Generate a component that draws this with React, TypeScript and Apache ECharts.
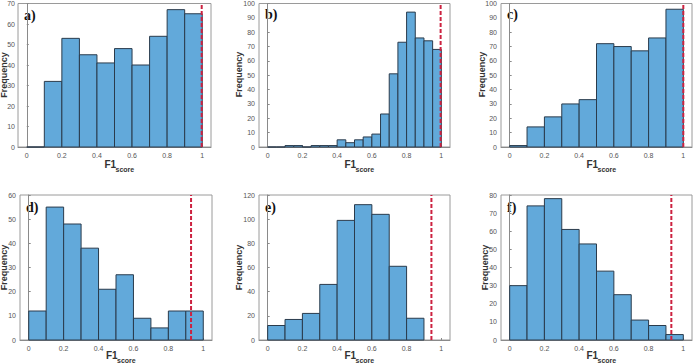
import React, { useEffect, useRef } from "react";
import * as echarts from "echarts";

// Histogram counts per panel; bins start at 0 with the given width
const countsA = [0, 32, 53, 45, 41, 48, 40, 54, 67, 65];
const countsB = [0, 0, 1, 1, 0, 1, 1, 1, 5, 3, 5, 7, 9, 23, 51, 73, 94, 76, 74, 68];
const countsC = [1, 14, 21, 30, 33, 72, 70, 67, 76, 96];
const countsD = [12, 55, 48, 38, 21, 27, 9, 5, 12, 12];
const countsE = [12, 17, 22, 46, 99, 112, 104, 61, 18];
const countsF = [30, 74, 78, 61, 53, 38, 25, 11, 8, 3];

const binWidths = [0.1, 0.05, 0.1, 0.1, 0.1, 0.1];
const thresholds = [0.997, 0.996, 1.0, 0.93, 0.943, 0.931];
const yMax = [70, 100, 100, 60, 120, 80];
const yStep = [10, 10, 10, 10, 20, 10];
const panelLabels = ["a)", "b)", "c)", "d)", "e)", "f)"];
const xTicks = [0, 0.2, 0.4, 0.6, 0.8, 1];

const allCounts = [countsA, countsB, countsC, countsD, countsE, countsF];

// plot-box placement for each panel: [left, top, width, height]
const boxes = [
  [18, 3, 193, 144],
  [259, 2, 191, 145],
  [501, 2, 191, 145],
  [20, 195, 192, 145],
  [259, 195, 191, 145],
  [501, 195, 191, 145],
];
// distance of the "Frequency" title from the left axis line
const yTitleGap = [14, 20, 19, 16, 20, 16];
// spacing between y tick labels and the axis line
const yLabelMargin = [3, 4, 4, 4, 4, 4];
// distance of the x title centre below the plot box
const xTitleGap = [17, 17, 17, 15.5, 15.5, 15.5];

const FONT = "'Liberation Sans', Arial, sans-serif";
const BAR_FILL = "#62a9da";
const BAR_EDGE = "#2a3b4c";
const LINE_RED = "#cc2240";

export default function App() {
  const ref = useRef<HTMLDivElement>(null);

  useEffect(() => {
    if (!ref.current) return;
    const chart = echarts.init(ref.current, undefined, { renderer: "svg" });

    const grids: any[] = [];
    const xAxes: any[] = [];
    const yAxes: any[] = [];
    const series: any[] = [];
    const graphics: any[] = [];

    allCounts.forEach((counts, i) => {
      const [l, t, w, h] = boxes[i];
      grids.push({
        left: l,
        top: t,
        width: w,
        height: h,
        show: true,
        borderColor: "#9a9a9a",
        borderWidth: 1,
        backgroundColor: "#fff",
      });
      xAxes.push({
        type: "value",
        gridIndex: i,
        min: -0.05,
        max: 1.05,
        axisLine: { show: true, lineStyle: { color: "#8a8a8a", width: 1 } },
        axisTick: {
          show: true,
          inside: true,
          length: 2,
          lineStyle: { color: "#8a8a8a" },
          customValues: xTicks,
        },
        axisLabel: {
          fontSize: 7,
          color: "#555",
          fontFamily: FONT,
          margin: 5,
          customValues: xTicks,
          formatter: (v: number) => String(Math.round(v * 10) / 10),
        },
        splitLine: { show: false },
      });
      yAxes.push({
        type: "value",
        gridIndex: i,
        min: 0,
        max: yMax[i],
        interval: yStep[i],
        axisLine: { show: true, lineStyle: { color: "#8a8a8a", width: 1 } },
        axisTick: { show: true, inside: true, length: 2, lineStyle: { color: "#8a8a8a" } },
        axisLabel: { fontSize: 7, color: "#555", fontFamily: FONT, margin: yLabelMargin[i] },
        splitLine: { show: false },
      });

      const bw = binWidths[i];
      const data = counts.map((c, k) => [
        Math.round(k * bw * 1000) / 1000,
        Math.round((k + 1) * bw * 1000) / 1000,
        c,
      ]);
      series.push({
        type: "custom",
        xAxisIndex: i,
        yAxisIndex: i,
        data,
        encode: { x: [0, 1], y: 2 },
        renderItem: (_p: any, api: any) => {
          const p0 = api.coord([api.value(0), 0]);
          const p1 = api.coord([api.value(1), api.value(2)]);
          return {
            type: "rect",
            shape: { x: p0[0], y: p1[1], width: p1[0] - p0[0], height: p0[1] - p1[1] },
            style: { fill: BAR_FILL, stroke: BAR_EDGE, lineWidth: 1 },
          };
        },
        z: 2,
      });
      series.push({
        type: "line",
        xAxisIndex: i,
        yAxisIndex: i,
        data: [
          [thresholds[i], 0],
          [thresholds[i], yMax[i]],
        ],
        symbol: "none",
        lineStyle: { color: LINE_RED, width: 2, type: [4, 2] },
        z: 5,
      });

      // axis titles and panel tag
      const cx = l + w / 2 + 2;
      graphics.push({
        type: "text",
        x: l - yTitleGap[i],
        y: t + h / 2,
        rotation: Math.PI / 2,
        style: {
          text: "Frequency",
          font: `bold 9px ${FONT}`,
          fill: "#333",
          align: "center",
          verticalAlign: "middle",
        },
      });
      graphics.push({
        type: "text",
        x: cx - 12,
        y: t + h + xTitleGap[i],
        style: {
          text: "F1",
          font: `bold 10px ${FONT}`,
          fill: "#333",
          align: "left",
          verticalAlign: "middle",
        },
      });
      graphics.push({
        type: "text",
        x: cx - 1,
        y: t + h + xTitleGap[i] + 5,
        style: {
          text: "score",
          font: `bold 7px ${FONT}`,
          fill: "#333",
          align: "left",
          verticalAlign: "middle",
        },
      });
      graphics.push({
        type: "text",
        x: l + 6,
        y: t + 12,
        style: {
          text: panelLabels[i],
          font: `bold 14px 'Liberation Serif', 'Times New Roman', serif`,
          fill: "#111",
          verticalAlign: "middle",
        },
      });
    });

    chart.setOption({
      animation: false,
      backgroundColor: "#fff",
      grid: grids,
      xAxis: xAxes,
      yAxis: yAxes,
      series,
      graphic: graphics,
    });

    return () => chart.dispose();
  }, []);

  return (
    <div
      ref={ref}
      style={{ width: 693, height: 363, position: "absolute", left: 0, top: 0 }}
    />
  );
}
